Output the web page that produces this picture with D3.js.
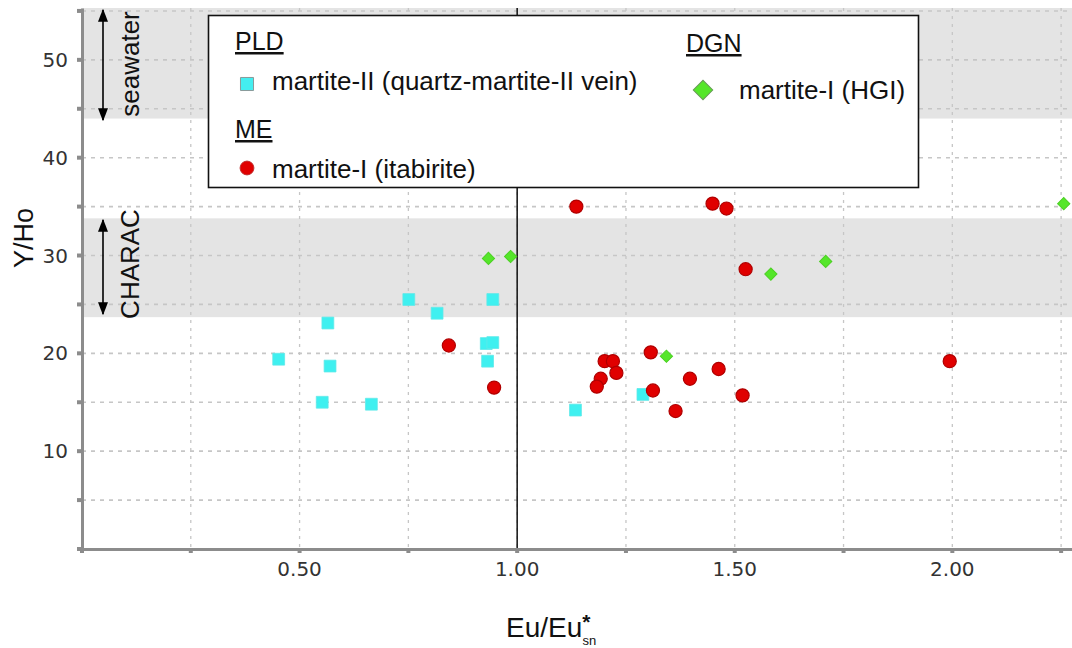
<!DOCTYPE html>
<html>
<head>
<meta charset="utf-8">
<script src="https://cdn.jsdelivr.net/npm/d3@7"></script>
<style>
  html, body { margin: 0; padding: 0; background: #fff; }
  svg { display: block; }
</style>
</head>
<body>
<svg id="chart" width="1072" height="648"></svg>
<script>
// Eu/Eu*sn vs Y/Ho for martite generations
const pldEu  = [0.452, 0.565, 0.570, 0.552, 0.665, 0.751, 0.816, 0.944, 0.929, 0.944, 0.932, 1.134, 1.289];
const pldYHo = [19.4, 23.1, 18.7, 15.0, 14.8, 25.5, 24.1, 25.5, 21.0, 21.1, 19.2, 14.2, 15.8];

const meEu  = [0.843, 0.947, 1.136, 1.201, 1.220, 1.228, 1.192, 1.183, 1.307, 1.312, 1.364, 1.397, 1.449, 1.481, 1.525, 1.463, 1.518, 1.994];
const meYHo = [20.8, 16.5, 35.0, 19.2, 19.2, 18.0, 17.4, 16.6, 20.1, 16.2, 14.1, 17.4, 35.3, 34.8, 28.6, 18.4, 15.7, 19.2];

const dgnEu  = [0.934, 0.985, 1.343, 1.583, 1.709, 2.256];
const dgnYHo = [29.7, 29.9, 19.7, 28.1, 29.4, 35.3];

const xTicks = [0.50, 1.00, 1.50, 2.00];
const yTicks = [10, 20, 30, 40, 50];
const xGrid = [0.25, 0.50, 0.75, 1.00, 1.25, 1.50, 1.75, 2.00, 2.25];
const yGrid = [5, 10, 15, 20, 25, 30, 35, 40, 45, 50, 55];

// reference ranges of Y/Ho
const bandNames = ["seawater", "CHARAC"];
const bandLow  = [44, 23.7];
const bandHigh = [74, 33.8];

const svg = d3.select("#chart");
const pLeft = 82, pRight = 1072, pTop = 8, pBottom = 549;

const x = d3.scaleLinear().domain([0, 2.275]).range([pLeft, pRight]);
const y = d3.scaleLinear().domain([0, 55.3]).range([pBottom, pTop]);

const defs = svg.append("defs");
defs.append("clipPath").attr("id", "plotClip")
  .append("rect").attr("x", pLeft).attr("y", pTop).attr("width", pRight - pLeft).attr("height", pBottom - pTop);
const arrow = defs.append("marker").attr("id", "arrowHead")
  .attr("viewBox", "0 0 10 10").attr("refX", 9).attr("refY", 5)
  .attr("preserveAspectRatio", "none")
  .attr("markerWidth", 13).attr("markerHeight", 10).attr("markerUnits", "userSpaceOnUse")
  .attr("orient", "auto-start-reverse");
arrow.append("path").attr("d", "M0,0 L10,5 L0,10 Z").attr("fill", "#000");

const plot = svg.append("g").attr("clip-path", "url(#plotClip)");

// shaded reference bands
plot.selectAll("rect.band").data(bandNames).join("rect")
  .attr("class", "band")
  .attr("x", pLeft)
  .attr("width", pRight - pLeft)
  .attr("y", (d, i) => y(bandHigh[i]))
  .attr("height", (d, i) => y(bandLow[i]) - y(bandHigh[i]))
  .attr("fill", "#e4e4e4");

// dashed grid
plot.selectAll("line.vgrid").data(xGrid).join("line")
  .attr("class", "vgrid")
  .attr("x1", d => x(d)).attr("x2", d => x(d))
  .attr("y1", pTop).attr("y2", pBottom)
  .attr("stroke", "#c6c6c6").attr("stroke-width", 1.3).attr("stroke-dasharray", "3,5");
plot.selectAll("line.hgrid").data(yGrid).join("line")
  .attr("class", "hgrid")
  .attr("x1", pLeft).attr("x2", pRight)
  .attr("y1", d => y(d)).attr("y2", d => y(d))
  .attr("stroke", "#c6c6c6").attr("stroke-width", 1.6).attr("stroke-dasharray", "4,5");

// Eu/Eu* = 1 reference line
plot.append("line")
  .attr("x1", x(1)).attr("x2", x(1)).attr("y1", pTop).attr("y2", pBottom)
  .attr("stroke", "#111").attr("stroke-width", 1.5);

// axes
const axisColor = "#8c8c8c";
const xAxis = svg.append("g").attr("transform", `translate(0,${pBottom})`)
  .call(d3.axisBottom(x).tickValues(xGrid.concat([0])).tickSize(0).tickFormat(""));
xAxis.select(".domain").attr("stroke", axisColor).attr("stroke-width", 3);
const yAxis = svg.append("g").attr("transform", `translate(${pLeft},0)`)
  .call(d3.axisLeft(y).tickValues(yGrid.concat([0])).tickSize(0).tickFormat(""));
yAxis.select(".domain").attr("stroke", axisColor).attr("stroke-width", 3);

// small tick nubs on the axes
svg.append("g").selectAll("rect").data(yGrid.concat([0])).join("rect")
  .attr("x", pLeft - 5).attr("y", d => y(d) - 2).attr("width", 5).attr("height", 4)
  .attr("fill", axisColor);
svg.append("g").selectAll("rect").data(xGrid.concat([0])).join("rect")
  .attr("x", d => x(d) - 2).attr("y", pBottom - 1).attr("width", 4).attr("height", 5)
  .attr("fill", axisColor);

// tick labels
svg.append("g").selectAll("text").data(xTicks).join("text")
  .attr("x", d => x(d)).attr("y", 576)
  .attr("text-anchor", "middle")
  .attr("font-family", "DejaVu Sans, sans-serif").attr("font-size", 20).attr("fill", "#333")
  .text(d => d3.format(".2f")(d));
svg.append("g").selectAll("text").data(yTicks).join("text")
  .attr("x", 68).attr("y", d => y(d) + 7)
  .attr("text-anchor", "end")
  .attr("font-family", "DejaVu Sans, sans-serif").attr("font-size", 20).attr("fill", "#333")
  .text(d => d);

// axis titles
svg.append("text")
  .attr("transform", "translate(33,238) rotate(-90)")
  .attr("text-anchor", "middle")
  .attr("font-family", "Liberation Sans, Arial, sans-serif").attr("font-size", 27).attr("fill", "#111")
  .text("Y/Ho");

const xt = svg.append("text")
  .attr("x", 506).attr("y", 637)
  .attr("font-family", "Liberation Sans, Arial, sans-serif").attr("font-size", 28).attr("fill", "#111");
xt.append("tspan").text("Eu/Eu");
xt.append("tspan").attr("dy", -8).attr("font-size", 21).attr("font-weight", "bold").text("*");
xt.append("tspan").attr("dx", -8).attr("dy", 16).attr("font-size", 13).text("sn");

// band annotations with double-headed arrows
const bandLabelY = [64, 264];
const arrowTop = [10, 220];
const arrowBottom = [120, 314];
bandNames.forEach((name, i) => {
  svg.append("line")
    .attr("x1", 103).attr("x2", 103)
    .attr("y1", arrowTop[i]).attr("y2", arrowBottom[i])
    .attr("stroke", "#000").attr("stroke-width", 1.6)
    .attr("marker-start", "url(#arrowHead)").attr("marker-end", "url(#arrowHead)");
  svg.append("text")
    .attr("transform", `translate(139,${bandLabelY[i]}) rotate(-90)`)
    .attr("text-anchor", "middle")
    .attr("font-family", "Liberation Sans, Arial, sans-serif").attr("font-size", 26).attr("fill", "#111")
    .text(name);
});

// sample symbols
const symSquare = d3.symbol().type(d3.symbolSquare).size(140);
const symCircle = d3.symbol().type(d3.symbolCircle).size(135);
const symDiamond = d3.symbol().type(d3.symbolSquare).size(75);

const pts = svg.append("g");
pts.selectAll("path.pld").data(pldEu).join("path")
  .attr("class", "pld")
  .attr("transform", (d, i) => `translate(${x(d)},${y(pldYHo[i])})`)
  .attr("d", symSquare)
  .attr("fill", "#3ff0f0").attr("stroke", "#5fe8e8").attr("stroke-width", 0.8);
pts.selectAll("path.dgn").data(dgnEu).join("path")
  .attr("class", "dgn")
  .attr("transform", (d, i) => `translate(${x(d)},${y(dgnYHo[i])}) rotate(45)`)
  .attr("d", symDiamond)
  .attr("fill", "#55e62a").attr("stroke", "#4cd024").attr("stroke-width", 1);
pts.selectAll("path.me").data(meEu).join("path")
  .attr("class", "me")
  .attr("transform", (d, i) => `translate(${x(d)},${y(meYHo[i])})`)
  .attr("d", symCircle)
  .attr("fill", "#e00000").attr("stroke", "#b00000").attr("stroke-width", 1.2);

// legend
const lg = svg.append("g");
lg.append("rect").attr("x", 208.5).attr("y", 15.5).attr("width", 710).attr("height", 172)
  .attr("fill", "#fff").attr("stroke", "#111").attr("stroke-width", 1.6);

const legendFont = "Liberation Sans, Arial, sans-serif";
const groupNames = ["PLD", "ME", "DGN"];
const groupX = [235, 235, 686];
const groupY = [50, 138, 52];
groupNames.forEach((g, i) => {
  lg.append("text").attr("x", groupX[i]).attr("y", groupY[i])
    .attr("font-family", legendFont).attr("font-size", 25).attr("fill", "#111")
    .attr("text-decoration", "underline").text(g);
});

const entryNames = ["martite-II (quartz-martite-II vein)", "martite-I (itabirite)", "martite-I (HGI)"];
const entryTextX = [272, 272, 739];
const entryTextY = [90, 178, 99];
const entrySymX = [247, 247, 703];
const entrySymY = [84, 168, 90];
entryNames.forEach((n, i) => {
  lg.append("text").attr("x", entryTextX[i]).attr("y", entryTextY[i])
    .attr("font-family", legendFont).attr("font-size", 26).attr("fill", "#111").text(n);
});
lg.append("path").attr("transform", `translate(${entrySymX[0]},${entrySymY[0]})`)
  .attr("d", d3.symbol().type(d3.symbolSquare).size(170))
  .attr("fill", "#44eef0").attr("stroke", "#8a9a9a").attr("stroke-width", 1);
lg.append("path").attr("transform", `translate(${entrySymX[1]},${entrySymY[1]})`)
  .attr("d", d3.symbol().type(d3.symbolCircle).size(150))
  .attr("fill", "#e00000").attr("stroke", "#c03030").attr("stroke-width", 1);
lg.append("path").attr("transform", `translate(${entrySymX[2]},${entrySymY[2]}) rotate(45)`)
  .attr("d", d3.symbol().type(d3.symbolSquare).size(190))
  .attr("fill", "#55e62a").attr("stroke", "#6a9a5a").attr("stroke-width", 1);
</script>
</body>
</html>
